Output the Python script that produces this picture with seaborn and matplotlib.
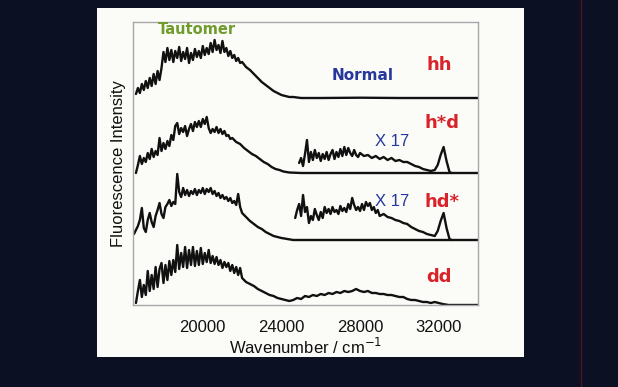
import matplotlib
matplotlib.use("Agg")
import matplotlib.pyplot as plt
from matplotlib.patches import Rectangle
from matplotlib.lines import Line2D
from matplotlib.ticker import MultipleLocator, FixedLocator
import numpy as np
import pandas as pd
import seaborn as sns

# ---------------- data (arbitrary intensity units) ----------------
noisy_hh_wn = list(range(16600, 22001, 100))
hh_noisy = [4, 10, 5, 14, 8, 17, 10, 20, 12, 24, 14, 27, 18, 30, 46, 36, 50, 38, 48, 36,
            47, 40, 51, 37, 46, 39, 50, 35, 45, 38, 49, 41, 47, 40, 52, 43, 50, 44, 55, 46,
            58, 48, 53, 45, 57, 46, 50, 42, 47, 40, 43, 37, 40, 35, 36]
hh_tail_wn = [22200, 22400, 22600, 22800, 23000, 23200, 23400, 23600, 23800, 24000, 24200,
              24400, 24600, 24800, 25000, 26000, 28000, 30000, 32000, 34000]
hh_tail = [31, 28, 24, 20, 16, 13, 10, 7, 5, 3, 2, 1, 1, 0.5, 0, 0, 0.3, 0, 0, 0]
hh_wn = noisy_hh_wn + hh_tail_wn
hh_int = hh_noisy + hh_tail

hsd_noisy_wn = list(range(16600, 21501, 100))
hsd_noisy = [0, 8, 17, 9, 15, 11, 20, 14, 24, 16, 22, 18, 35, 22, 30, 24, 32, 27, 38, 33,
             47, 50, 39, 45, 41, 47, 37, 44, 49, 42, 51, 46, 52, 46, 54, 49, 56, 45, 40, 44,
             41, 46, 40, 44, 39, 42, 37, 38, 34, 35]
hsd_tail_wn = [21700, 21900, 22100, 22300, 22500, 22700, 22900, 23100, 23300, 23500, 23700,
               23900, 24100, 24400, 25000, 28000, 32000, 34000]
hsd_tail = [31, 29, 25, 22, 19, 17, 14, 11, 9, 6, 4, 3, 1.5, 0.5, 0, 0, 0, 0]
hsd_wn = hsd_noisy_wn + hsd_tail_wn
hsd_int = hsd_noisy + hsd_tail

hds_noisy_wn = list(range(16500, 22001, 100))
hds_noisy = [6, 10, 14, 20, 32, 12, 8, 20, 27, 18, 13, 24, 30, 37, 26, 22, 33, 36, 40, 34,
             38, 36, 66, 48, 43, 52, 45, 50, 44, 49, 46, 51, 45, 50, 47, 52, 46, 51, 48, 52,
             46, 49, 44, 47, 42, 45, 41, 43, 39, 42, 37, 39, 35, 46, 33, 27]
hds_tail_wn = [22200, 22400, 22600, 22800, 23000, 23200, 23400, 23600, 23800, 24000, 24300,
               24600, 28000, 32000, 34000]
hds_tail = [23, 19, 16, 13, 11, 8, 6, 4, 3, 2, 1, 0, 0, 0, 0]
hds_wn = hds_noisy_wn + hds_tail_wn
hds_int = hds_noisy + hds_tail

dd_noisy_wn = list(range(16600, 22201, 100))
dd_noisy = [2, 14, 25, 8, 20, 10, 34, 14, 30, 16, 38, 18, 36, 42, 22, 40, 25, 44, 30, 45,
            33, 60, 36, 52, 38, 58, 37, 55, 40, 58, 39, 54, 40, 57, 41, 52, 43, 55, 42, 49,
            41, 48, 40, 45, 37, 43, 38, 42, 34, 40, 32, 38, 30, 37, 27, 25, 23]
dd_tail_wn = list(range(22400, 32201, 200)) + [32500, 33000, 34000]
dd_tail = [21, 19, 16, 14, 12, 10, 9, 7, 6, 5, 4, 5, 7, 6, 9, 8, 10, 9, 11, 10, 12, 11, 13,
           12, 14, 13, 14, 16, 14, 13, 14, 12, 12, 11, 11, 10, 10, 9, 8, 8, 6, 5, 5, 4, 3,
           3, 2, 3, 2, 1, 0, 0, 0]
dd_wn = dd_noisy_wn + dd_tail_wn
dd_int = dd_noisy + dd_tail

# x17 magnified traces
hsd17_wn = list(range(24900, 28001, 100)) + [28200, 28400, 28600, 28800, 29000, 29200, 29400,
                                             29600, 29800, 30000, 30200, 30400, 30600, 30800,
                                             31000, 31200, 31400, 31600, 31800, 31950, 32100,
                                             32250, 32400, 32550, 32650]
hsd17_int = [10, 15, 7, 19, 33, 11, 21, 13, 23, 15, 20, 12, 19, 14, 21, 13, 19, 23, 14, 21,
             16, 24, 17, 26, 18, 25, 20, 17, 23, 18, 16, 20,
             17, 18, 15, 17, 14, 16, 13, 15, 12, 13, 11, 11, 9, 7, 6, 4, 3, 2, 3, 8, 18, 26,
             12, 1, 0]

hds17_wn = list(range(24700, 29001, 100)) + [29200, 29400, 29600, 29800, 30000, 30200, 30400,
                                             30600, 30800, 31000, 31200, 31400, 31600, 31800,
                                             31950, 32100, 32250, 32400, 32550, 32650]
hds17_int = [22, 30, 36, 24, 45, 28, 33, 17, 24, 20, 31, 25, 20, 28, 22, 33, 27, 31, 26, 33,
             28, 30, 26, 34, 29, 32, 28, 36, 31, 42, 35, 30, 33, 29, 36, 30, 38, 34, 37, 30,
             33, 27, 30, 24,
             26, 23, 22, 20, 19, 17, 16, 13, 11, 9, 8, 6, 5, 4, 9, 19, 27, 12, 1, 0]

offsets = {"hh": 207, "h*d": 132, "hd*": 65, "dd": 0}
sample_labels = ["hh", "h*d", "hd*", "dd"]
x_major = [20000, 24000, 28000, 32000]

# ---------------- figure ----------------
sns.set_style("white")
plt.rcParams["font.family"] = ["Liberation Sans", "DejaVu Sans"]

BG = "#0b1122"
PANEL = "#fbfbf8"
fig = plt.figure(figsize=(6.18, 3.87), dpi=100, facecolor=BG)
fig.add_artist(Rectangle((97 / 618, 1 - 357 / 387), (524 - 97) / 618, (357 - 8) / 387,
                         transform=fig.transFigure, facecolor=PANEL, edgecolor="none", zorder=0))
fig.add_artist(Line2D([581 / 618, 581 / 618], [0, 1], transform=fig.transFigure,
                      color="#4a1422", lw=1.0, zorder=0))

ax = fig.add_axes([133 / 618, 1 - 305 / 387, (478 - 133) / 618, (305 - 22) / 387])
ax.set_facecolor(PANEL)

line_kw = dict(color="#111111", lw=1.7, estimator=None, sort=False, ax=ax, legend=False)
series = [("hh", hh_wn, hh_int), ("h*d", hsd_wn, hsd_int), ("hd*", hds_wn, hds_int),
          ("dd", dd_wn, dd_int)]
for name, wn, inten in series:
    df = pd.DataFrame({"wn": wn, "I": np.array(inten, dtype=float) + offsets[name]})
    sns.lineplot(data=df, x="wn", y="I", **line_kw)
for name, wn, inten in [("h*d", hsd17_wn, hsd17_int), ("hd*", hds17_wn, hds17_int)]:
    df = pd.DataFrame({"wn": wn, "I": np.array(inten, dtype=float) + offsets[name]})
    sns.lineplot(data=df, x="wn", y="I", **line_kw)

ax.set_xlim(16450, 34000)
ax.set_ylim(0, 283)
ax.set_yticks([])
ax.xaxis.set_major_locator(FixedLocator(x_major))
ax.xaxis.set_minor_locator(MultipleLocator(1000))
ax.tick_params(axis="x", which="major", direction="out", length=5, width=1,
               color="#555555", labelsize=12, pad=6, labelcolor="#111111")
ax.tick_params(axis="x", which="minor", direction="out", length=3, width=1, color="#555555")
for s in ax.spines.values():
    s.set_color("#a8a8a8")
    s.set_linewidth(1.0)

ax.set_xlabel("Wavenumber / cm$^{-1}$", fontsize=12, color="#111111", labelpad=1)
ax.set_ylabel("Fluorescence Intensity", fontsize=12, color="#111111", labelpad=5)

RED = "#d9232b"
BLUE = "#26379b"
GREEN = "#6f9c2c"
ann_font = ["DejaVu Sans"]
ax.text(19700, 275, "Tautomer", color=GREEN, fontsize=10.5, fontweight="bold",
        ha="center", va="center", family=ann_font)
ax.text(28130, 230, "Normal", color=BLUE, fontsize=11, fontweight="bold",
        ha="center", va="center", family=ann_font)
label_pos = {"hh": (32040, 240), "h*d": (32190, 182), "hd*": (32190, 103), "dd": (32040, 28)}
for lab in sample_labels:
    x, y = label_pos[lab]
    ax.text(x, y, lab, color=RED, fontsize=13, fontweight="bold", ha="center", va="center",
            family=ann_font)
ax.text(29650, 163, "X 17", color=BLUE, fontsize=12, ha="center", va="center")
ax.text(29650, 103, "X 17", color=BLUE, fontsize=12, ha="center", va="center")

fig.savefig("out.png", dpi=100, facecolor=BG)
